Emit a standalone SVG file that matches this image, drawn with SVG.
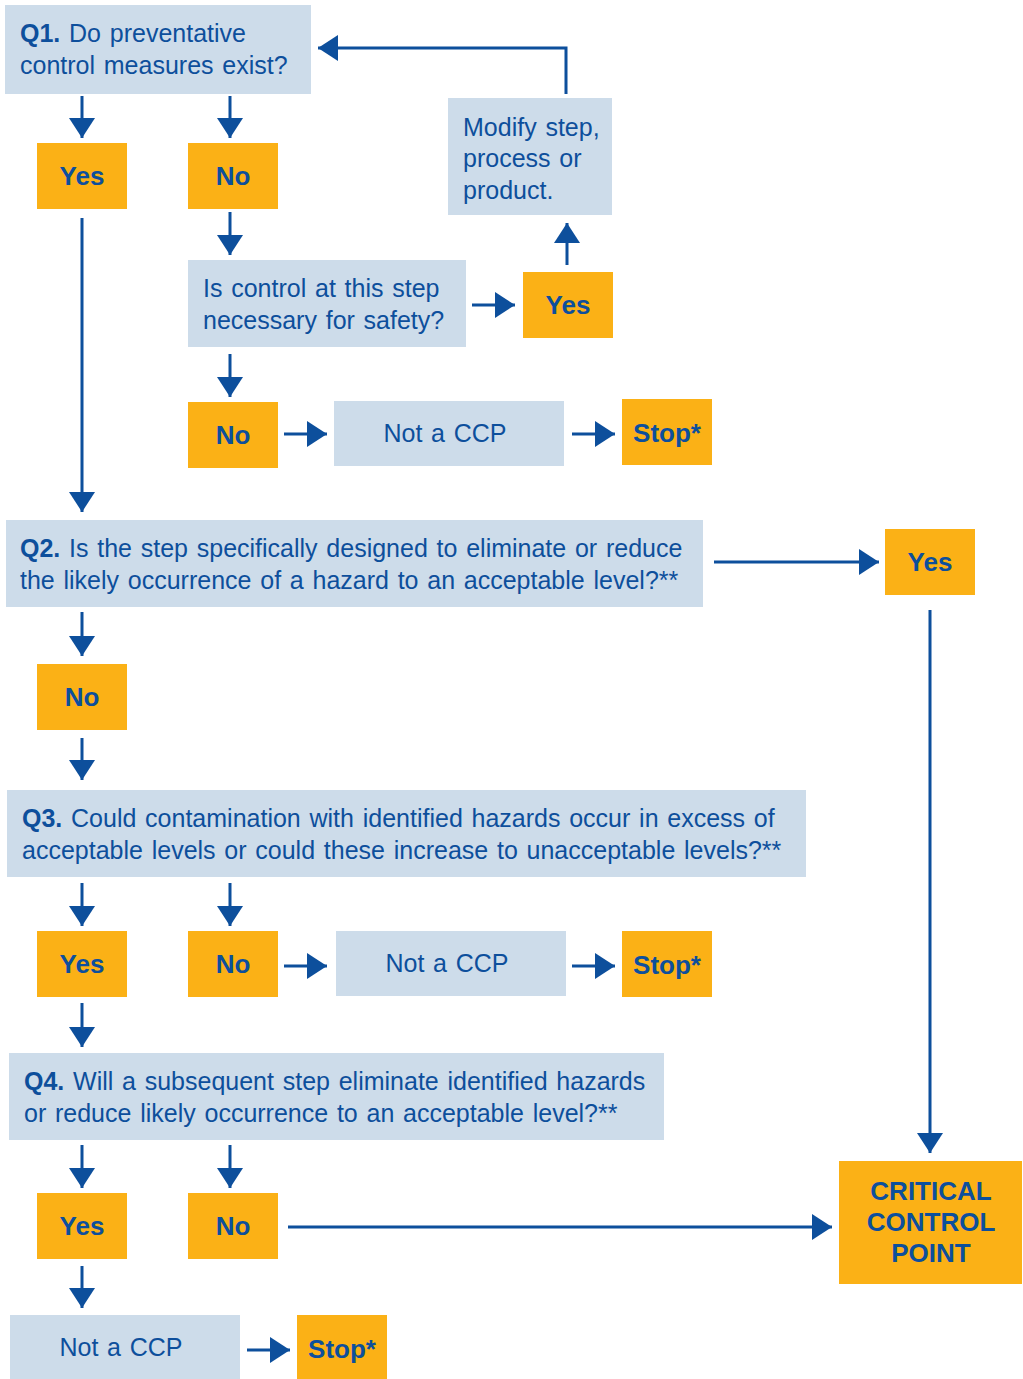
<svg xmlns="http://www.w3.org/2000/svg" width="1023" height="1379" viewBox="0 0 1023 1379">
<defs>
<style>
.q{fill:#cddcea}
.o{fill:#fbb116}
.t{font-family:"Liberation Sans",Arial,sans-serif;font-size:25px;word-spacing:1.8px;fill:#0d4f9c}
.b{font-family:"Liberation Sans",Arial,sans-serif;font-size:26px;font-weight:bold;fill:#0d4f9c;text-anchor:middle}
.c{stroke:#0d4f9c;stroke-width:3;fill:none}
</style>
<marker id="ah" markerUnits="userSpaceOnUse" markerWidth="22" markerHeight="28" refX="20" refY="13" orient="auto">
<path d="M0,0 L20,13 L0,26 z" fill="#0d4f9c"/>
</marker>
</defs>
<rect width="1023" height="1379" fill="#fff"/>

<g id="connectors" class="c" marker-end="url(#ah)">
<path d="M82,96 V138"/>
<path d="M230,96 V138"/>
<path d="M82,218 V512"/>
<path d="M230,212 V255"/>
<path d="M472,305 H515"/>
<path d="M567,265 V223"/>
<path d="M566,94 V48 H318"/>
<path d="M230,354 V397"/>
<path d="M284,434 H327"/>
<path d="M572,434 H615"/>
<path d="M714,562 H879"/>
<path d="M930,610 V1153"/>
<path d="M82,612 V656"/>
<path d="M82,738 V780"/>
<path d="M82,883 V926"/>
<path d="M230,883 V926"/>
<path d="M284,966 H327"/>
<path d="M572,966 H615"/>
<path d="M82,1003 V1047"/>
<path d="M82,1145 V1188"/>
<path d="M230,1145 V1188"/>
<path d="M288,1227 H832"/>
<path d="M82,1266 V1308"/>
<path d="M247,1350 H290"/>
</g>

<g id="q1"><rect class="q" x="5" y="5" width="306" height="89"/>
<text class="t" x="20" y="42"><tspan font-weight="bold">Q1.</tspan> Do preventative</text>
<text class="t" x="20" y="74">control measures exist?</text></g>
<g id="q1yes"><rect class="o" x="37" y="143" width="90" height="66"/><text class="b" x="82" y="185">Yes</text></g>
<g id="q1no"><rect class="o" x="188" y="143" width="90" height="66"/><text class="b" x="233" y="185">No</text></g>

<g id="modify"><rect class="q" x="448" y="98" width="164" height="117"/>
<text class="t" x="463" y="136">Modify step,</text>
<text class="t" x="463" y="167">process or</text>
<text class="t" x="463" y="199">product.</text></g>

<g id="safety"><rect class="q" x="188" y="260" width="278" height="87"/>
<text class="t" x="203" y="297">Is control at this step</text>
<text class="t" x="203" y="329">necessary for safety?</text></g>
<g id="safetyyes"><rect class="o" x="523" y="272" width="90" height="66"/><text class="b" x="568" y="314">Yes</text></g>
<g id="safetyno"><rect class="o" x="188" y="402" width="90" height="66"/><text class="b" x="233" y="444">No</text></g>
<g id="notccp1"><rect class="q" x="334" y="401" width="230" height="65"/><text class="t" x="445" y="442" text-anchor="middle">Not a CCP</text></g>
<g id="stop1"><rect class="o" x="622" y="399" width="90" height="66"/><text class="b" x="667" y="442">Stop*</text></g>

<g id="q2"><rect class="q" x="6" y="520" width="697" height="87"/>
<text class="t" x="20" y="557"><tspan font-weight="bold">Q2.</tspan> Is the step specifically designed to eliminate or reduce</text>
<text class="t" x="20" y="589">the likely occurrence of a hazard to an acceptable level?**</text></g>
<g id="q2yes"><rect class="o" x="885" y="529" width="90" height="66"/><text class="b" x="930" y="571">Yes</text></g>
<g id="q2no"><rect class="o" x="37" y="664" width="90" height="66"/><text class="b" x="82" y="706">No</text></g>

<g id="q3"><rect class="q" x="7" y="790" width="799" height="87"/>
<text class="t" x="22" y="827"><tspan font-weight="bold">Q3.</tspan> Could contamination with identified hazards occur in excess of</text>
<text class="t" x="22" y="859">acceptable levels or could these increase to unacceptable levels?**</text></g>
<g id="q3yes"><rect class="o" x="37" y="931" width="90" height="66"/><text class="b" x="82" y="973">Yes</text></g>
<g id="q3no"><rect class="o" x="188" y="931" width="90" height="66"/><text class="b" x="233" y="973">No</text></g>
<g id="notccp2"><rect class="q" x="336" y="931" width="230" height="65"/><text class="t" x="447" y="972" text-anchor="middle">Not a CCP</text></g>
<g id="stop2"><rect class="o" x="622" y="931" width="90" height="66"/><text class="b" x="667" y="974">Stop*</text></g>

<g id="q4"><rect class="q" x="9" y="1053" width="655" height="87"/>
<text class="t" x="24" y="1090"><tspan font-weight="bold">Q4.</tspan> Will a subsequent step eliminate identified hazards</text>
<text class="t" x="24" y="1122">or reduce likely occurrence to an acceptable level?**</text></g>
<g id="q4yes"><rect class="o" x="37" y="1193" width="90" height="66"/><text class="b" x="82" y="1235">Yes</text></g>
<g id="q4no"><rect class="o" x="188" y="1193" width="90" height="66"/><text class="b" x="233" y="1235">No</text></g>
<g id="notccp3"><rect class="q" x="10" y="1315" width="230" height="64"/><text class="t" x="121" y="1356" text-anchor="middle">Not a CCP</text></g>
<g id="stop3"><rect class="o" x="297" y="1315" width="90" height="64"/><text class="b" x="342" y="1358">Stop*</text></g>

<g id="ccp"><rect class="o" x="839" y="1161" width="183" height="123"/>
<text class="b" x="931" y="1200">CRITICAL</text>
<text class="b" x="931" y="1231">CONTROL</text>
<text class="b" x="931" y="1262">POINT</text></g>
</svg>
